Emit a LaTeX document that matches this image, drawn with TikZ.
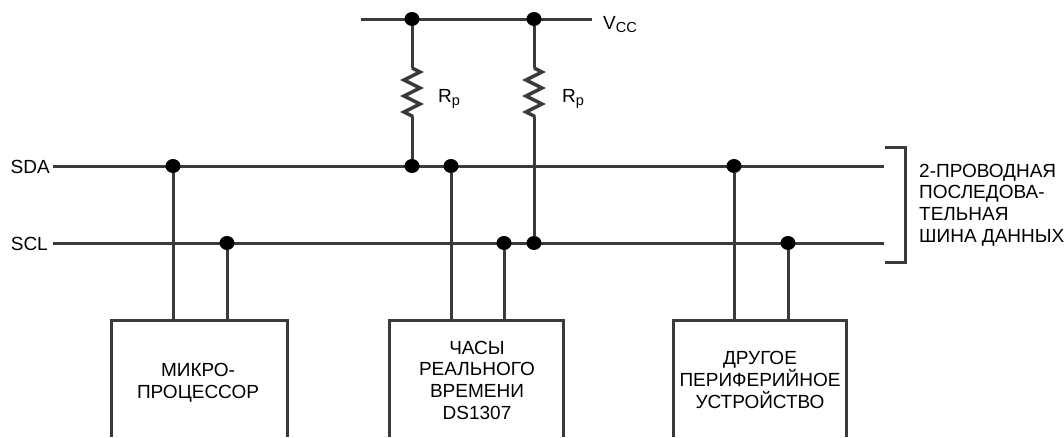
\documentclass[tikz,border=0pt]{standalone}
\usepackage{fontspec}
\setmainfont{Liberation Sans}
\usetikzlibrary{decorations.pathmorphing, shapes.geometric}
\definecolor{wire}{HTML}{3A3A3A}
\newcommand{\lowtext}[1]{\raisebox{-3pt}{\fontsize{14.5}{14.5}\selectfont #1}}
\begin{document}
\begin{tikzpicture}[x=1pt, y=-1pt,
		wire/.style = {draw=wire, line width=3pt},
		dot/.style = {fill=black, ellipse, minimum width=15pt, minimum height=14pt, inner sep=0pt},
		main/.style = {align=center, inner sep=0pt, font=\fontsize{19}{21.7}\selectfont},
		res/.style = {wire, line width=3.4pt, decorate, decoration={zigzag, amplitude=8pt, segment length=16pt}}]
		\useasboundingbox (0,0) rectangle (1064,437);
		\coordinate (vl) at (361,19);
		\coordinate (vr) at (592,19);
		\coordinate (sdal) at (53,166);
		\coordinate (sdar) at (884,166);
		\coordinate (scll) at (53,243);
		\coordinate (sclr) at (884,243);
		\draw[wire] (vl) -- (vr);
		\draw[wire] (sdal) -- (sdar);
		\draw[wire] (scll) -- (sclr);
		\node[dot] (v1) at (412,19) {};
		\node[dot] (v2) at (534,19) {};
		\node[dot] (a1) at (173,166) {};
		\node[dot] (a2) at (412,166) {};
		\node[dot] (a3) at (451,166) {};
		\node[dot] (a4) at (734,166) {};
		\node[dot] (c1) at (227,243) {};
		\node[dot] (c2) at (504,243) {};
		\node[dot] (c3) at (534,243) {};
		\node[dot] (c4) at (788,243) {};
		\coordinate (r1t) at (412,68);
		\coordinate (r1b) at (412,117);
		\coordinate (r2t) at (534,68);
		\coordinate (r2b) at (534,117);
		\draw[wire] (v1) -- (r1t);
		\draw[res] (r1t) -- (r1b);
		\draw[wire] (r1b) -- (a2);
		\draw[wire] (v2) -- (r2t);
		\draw[res] (r2t) -- (r2b);
		\draw[wire] (r2b) -- (c3);
		\coordinate (b1l) at (111,437);
		\coordinate (b1r) at (287,437);
		\coordinate (b2l) at (389,437);
		\coordinate (b2r) at (563,437);
		\coordinate (b3l) at (673,437);
		\coordinate (b3r) at (846,437);
		\coordinate (top) at (0,320);
		\draw[wire] (b1l) -- (b1l |- top) -- (b1r |- top) -- (b1r);
		\draw[wire] (b2l) -- (b2l |- top) -- (b2r |- top) -- (b2r);
		\draw[wire] (b3l) -- (b3l |- top) -- (b3r |- top) -- (b3r);
		\draw[wire] (a1) -- (a1 |- top);
		\draw[wire] (c1) -- (c1 |- top);
		\draw[wire] (a3) -- (a3 |- top);
		\draw[wire] (c2) -- (c2 |- top);
		\draw[wire] (a4) -- (a4 |- top);
		\draw[wire] (c4) -- (c4 |- top);
		\coordinate (brt) at (885,147);
		\coordinate (brb) at (885,262);
		\draw[wire] (brt) -- (905,147) -- (905,262) -- (brb);
		\node[main, anchor=base east] (sda) at (50,173) {SDA};
		\node[main, anchor=base east] (scl) at (48,250) {SCL};
		\node[main, anchor=base west] (vcc) at (603,29) {V\lowtext{CC}};
		\node[main, anchor=base west] (rp1) at (438,102) {R\lowtext{p}};
		\node[main, anchor=base west] (rp2) at (562,102) {R\lowtext{p}};
		\node[main] (mcu) at (198,383) {МИКРО-\\ПРОЦЕССОР};
		\node[main] (rtc) at (477,380) {ЧАСЫ\\РЕАЛЬНОГО\\ВРЕМЕНИ\\DS1307};
		\node[main] (per) at (760,380) {ДРУГОЕ\\ПЕРИФЕРИЙНОЕ\\УСТРОЙСТВО};
		\node[main, anchor=west, align=left] (bus) at (919,205) {2-ПРОВОДНАЯ\\ПОСЛЕДОВА-\\ТЕЛЬНАЯ\\ШИНА ДАННЫХ};
\end{tikzpicture}
\end{document}
